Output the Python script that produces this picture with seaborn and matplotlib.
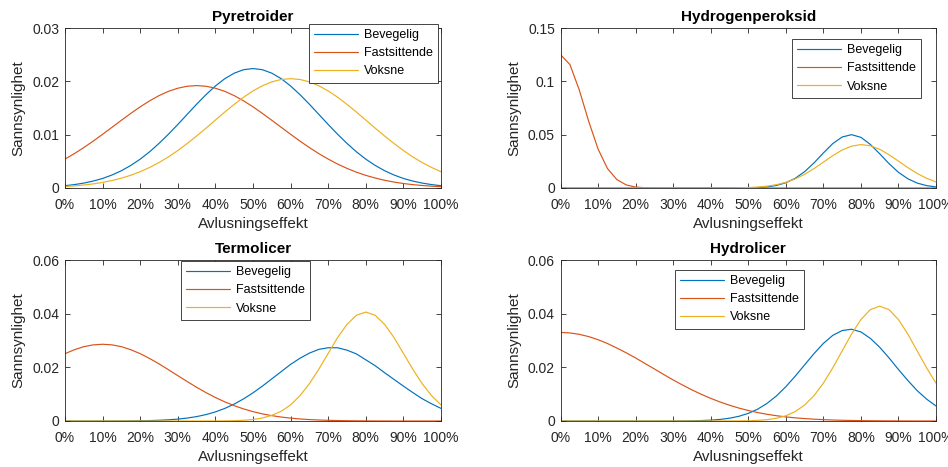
import matplotlib
matplotlib.use("Agg")
import matplotlib.pyplot as plt
import pandas as pd
import seaborn as sns

# ---------------- data (every 2.5 %) ----------------
x_pct = [0, 2.5, 5, 7.5, 10, 12.5, 15, 17.5, 20, 22.5, 25, 27.5, 30, 32.5, 35, 37.5, 40, 42.5, 45, 47.5, 50,
         52.5, 55, 57.5, 60, 62.5, 65, 67.5, 70, 72.5, 75, 77.5, 80, 82.5, 85, 87.5, 90, 92.5, 95, 97.5, 100]
series_names = ["Bevegelig", "Fastsittende", "Voksne"]
titles = ["Pyretroider", "Hydrogenperoksid", "Termolicer", "Hydrolicer"]

pyr_bev = [0.00043, 0.00064, 0.00092, 0.00130, 0.00179, 0.00244, 0.00324, 0.00423, 0.00541, 0.00679, 0.00836,
           0.01008, 0.01191, 0.01381, 0.01571, 0.01750, 0.01913, 0.02050, 0.02153, 0.02218, 0.02240,
           0.02218, 0.02153, 0.02050, 0.01913, 0.01750, 0.01571, 0.01381, 0.01191, 0.01008, 0.00836,
           0.00679, 0.00541, 0.00423, 0.00324, 0.00244, 0.00179, 0.00130, 0.00092, 0.00064, 0.00043]
pyr_fast = [0.00542, 0.00645, 0.00758, 0.00879, 0.01007, 0.01138, 0.01270, 0.01399, 0.01522, 0.01634, 0.01732,
            0.01812, 0.01871, 0.01908, 0.01920, 0.01908, 0.01871, 0.01812, 0.01732, 0.01634, 0.01522,
            0.01399, 0.01270, 0.01138, 0.01007, 0.00879, 0.00758, 0.00645, 0.00542, 0.00449, 0.00368,
            0.00297, 0.00237, 0.00187, 0.00145, 0.00111, 0.00084, 0.00063, 0.00047, 0.00034, 0.00024]
pyr_voks = [0.00028, 0.00040, 0.00056, 0.00077, 0.00105, 0.00140, 0.00184, 0.00239, 0.00305, 0.00385, 0.00477,
            0.00583, 0.00703, 0.00834, 0.00975, 0.01122, 0.01274, 0.01424, 0.01568, 0.01702, 0.01820,
            0.01917, 0.01990, 0.02035, 0.02050, 0.02035, 0.01990, 0.01917, 0.01820, 0.01702, 0.01568,
            0.01424, 0.01274, 0.01122, 0.00975, 0.00834, 0.00703, 0.00583, 0.00477, 0.00385, 0.00305]

hyd_bev = [0] * 18 + [0.00002, 0.00005, 0.00016, 0.00042, 0.00105, 0.00238, 0.0049, 0.00906, 0.0153, 0.0235,
                      0.0328, 0.0416, 0.0478, 0.0500, 0.0475, 0.0409, 0.0321, 0.0228, 0.0147, 0.00865,
                      0.0046, 0.00223, 0.0010]
hyd_fast = [0.125, 0.1158, 0.0919, 0.0626, 0.0366, 0.0183, 0.0079, 0.0029, 0.0009, 0.00025, 0.00006,
            0.00001] + [0] * 29
hyd_voks = [0] * 16 + [0.00001, 0.00003, 0.00008, 0.00019, 0.00043, 0.00088, 0.0017, 0.0031, 0.0053, 0.0085,
                       0.0128, 0.0182, 0.0242, 0.0303, 0.0356, 0.0392, 0.0407, 0.0396, 0.0363, 0.0312,
                       0.0252, 0.0191, 0.0136, 0.0091, 0.0057]

ter_bev = [0, 0, 0, 0, 0.00001, 0.00002, 0.00003, 0.00005, 0.0001, 0.00016, 0.00027, 0.00045, 0.0007, 0.00109,
           0.00164, 0.00239, 0.00339, 0.00469, 0.0063, 0.00825, 0.0105, 0.0130, 0.0157, 0.0184, 0.0211,
           0.0234, 0.0253, 0.0267, 0.0273, 0.0273, 0.0264, 0.0250, 0.0228, 0.0206, 0.0180, 0.0155, 0.0130,
           0.0106, 0.0083, 0.0064, 0.0047]
ter_fast = [0.0251, 0.02656, 0.0277, 0.02837, 0.0286, 0.02837, 0.0277, 0.02656, 0.0251, 0.02329, 0.0213,
            0.01912, 0.0169, 0.0147, 0.01257, 0.01058, 0.00876, 0.00713, 0.00571, 0.0045, 0.00349, 0.00266,
            0.0020, 0.00147, 0.00107, 0.00076, 0.00053, 0.00037, 0.00025, 0.00017, 0.00011, 0.00007, 0.00004,
            0.00002, 0.00001] + [0] * 6
ter_voks = [0] * 15 + [0.00001, 0.00002, 0.00005, 0.00012, 0.00027, 0.00056, 0.00111, 0.0021, 0.00364, 0.0060,
                       0.00944, 0.0139, 0.0193, 0.0252, 0.0311, 0.0360, 0.0394, 0.0406, 0.0394, 0.0360,
                       0.0311, 0.0252, 0.0193, 0.0139, 0.00944, 0.0060]

hl_bev = [0] * 11 + [0.00001, 0.00002, 0.00004, 0.00008, 0.00017, 0.00032, 0.00059, 0.00104, 0.00175, 0.00284,
                     0.00441, 0.00656, 0.00934, 0.01276, 0.01669, 0.0209, 0.0251, 0.0289, 0.0319, 0.0337,
                     0.0342, 0.0332, 0.0308, 0.0275, 0.0235, 0.0192, 0.0151, 0.0113, 0.00815, 0.0056]
hl_fast = [0.033, 0.03282, 0.0323, 0.03146, 0.0303, 0.02888, 0.0272, 0.02542, 0.0235, 0.02143, 0.0194, 0.01732,
           0.0153, 0.01341, 0.0116, 0.00995, 0.00844, 0.00708, 0.00588, 0.00482, 0.00392, 0.00315, 0.0025,
           0.00197, 0.00153, 0.00118, 0.0009, 0.00068, 0.0005, 0.00037, 0.00027, 0.0002, 0.00014, 0.0001,
           0.00007, 0.00005, 0.00003, 0.00002, 0.00001, 0.00001, 0]
hl_voks = [0] * 17 + [0.00001, 0.00002, 0.00004, 0.0001, 0.00023, 0.0005, 0.00102, 0.00196, 0.00351, 0.00594,
                      0.00943, 0.0141, 0.0198, 0.0261, 0.0324, 0.0378, 0.0415, 0.0428, 0.0415, 0.0378, 0.0324,
                      0.0261, 0.0198, 0.0141]

x_ticks = [0, 10, 20, 30, 40, 50, 60, 70, 80, 90, 100]
y_ticks_pyr = [0, 0.01, 0.02, 0.03]
y_ticks_hyd = [0, 0.05, 0.1, 0.15]
y_ticks_ter = [0, 0.02, 0.04, 0.06]
y_ticks_hl = [0, 0.02, 0.04, 0.06]

panels = [
    (titles[0], [pyr_bev, pyr_fast, pyr_voks], y_ticks_pyr),
    (titles[1], [hyd_bev, hyd_fast, hyd_voks], y_ticks_hyd),
    (titles[2], [ter_bev, ter_fast, ter_voks], y_ticks_ter),
    (titles[3], [hl_bev, hl_fast, hl_voks], y_ticks_hl),
]

# ---------------- style ----------------
sns.set_theme(style="ticks")
plt.rcParams["font.family"] = ["Liberation Sans", "DejaVu Sans"]
dark = "#262626"
plt.rcParams.update({
    "axes.edgecolor": dark,
    "axes.linewidth": 0.6,
    "xtick.color": dark,
    "ytick.color": dark,
    "text.color": "black",
    "axes.labelcolor": dark,
})
colors = ["#0072BD", "#D95319", "#EDB120"]

W, H = 948, 467
fig = plt.figure(figsize=(W / 100, H / 100), dpi=100)

# axes boxes in pixels: left, top, right, bottom
boxes = [(65, 28, 441, 188), (560.5, 28, 936, 188), (65, 260, 441, 421), (560.5, 260, 936, 421)]
legend_pos = [(309, 24), (792, 39), (181, 261), (675, 270)]

for (title, ys, yticks), (l, t, r, b), (lx, ly) in zip(panels, boxes, legend_pos):
    ax = fig.add_axes([l / W, 1 - b / H, (r - l) / W, (b - t) / H])
    n = len(x_pct)
    df = pd.DataFrame({
        "x": x_pct * 3,
        "y": ys[0] + ys[1] + ys[2],
        "serie": [series_names[0]] * n + [series_names[1]] * n + [series_names[2]] * n,
    })
    sns.lineplot(data=df, x="x", y="y", hue="serie", hue_order=series_names,
                 palette=colors, ax=ax, lw=0.85, legend=False, sort=False, errorbar=None)
    ax.set_xlim(0, 100)
    ax.set_ylim(yticks[0], yticks[-1])
    ax.set_xticks(x_ticks)
    ax.set_xticklabels([f"{v}%" for v in x_ticks])
    ax.set_yticks(yticks)
    ax.set_yticklabels([f"{v:g}" for v in yticks])
    ax.tick_params(direction="in", top=True, right=True, length=3.5, width=0.6,
                   labelsize=10, pad=4)
    ax.tick_params(axis="x", pad=7)
    for s in ax.spines.values():
        s.set_visible(True)
    ax.set_title(title, fontsize=11, fontweight="bold", pad=5)
    ax.set_xlabel("Avlusningseffekt", fontsize=11, labelpad=4)
    ax.set_ylabel("Sannsynlighet", fontsize=11, labelpad=5)
    leg = ax.legend(ax.lines[:3], series_names, loc="upper left",
                    bbox_to_anchor=(lx / W, 1 - ly / H), bbox_transform=fig.transFigure,
                    borderaxespad=0, fontsize=9, frameon=True, fancybox=False,
                    edgecolor=dark, framealpha=1, handlelength=3.5, handletextpad=0.5,
                    labelspacing=0.5, borderpad=0.4)
    leg.get_frame().set_linewidth(0.6)

fig.savefig("out.png", dpi=100)
